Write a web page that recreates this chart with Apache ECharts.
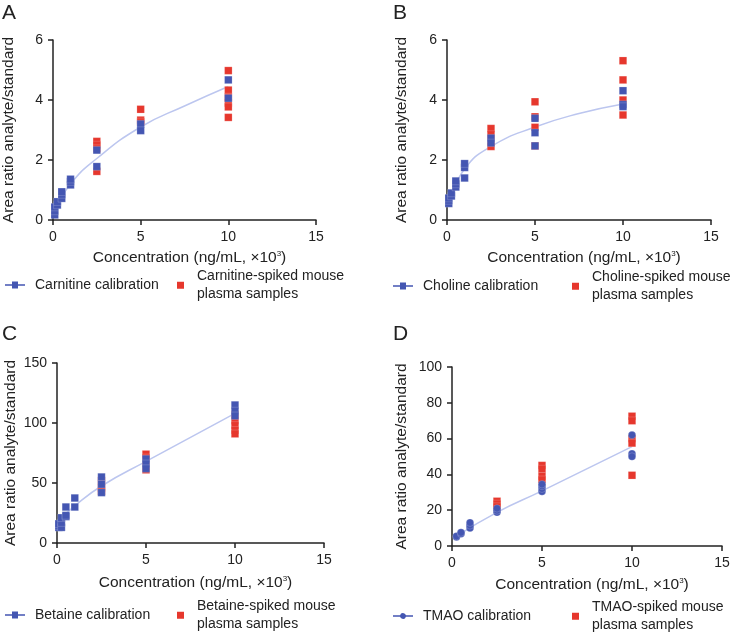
<!DOCTYPE html>
<html>
<head>
<meta charset="utf-8">
<script src="https://cdn.jsdelivr.net/npm/echarts@6/dist/echarts.min.js"></script>
<style>
html,body{margin:0;padding:0;background:#fff;}
#chart{width:733px;height:643px;}
</style>
</head>
<body>
<div id="chart"></div>
<script>
// ---------- data (concentration ×10^3 ng/mL, area ratio) ----------
const xTicks = [0, 15, 5];          // min, max, interval of every x axis
const yAxisA = [0, 6, 2];
const yAxisB = [0, 6, 2];
const yAxisC = [0, 150, 50];
const yAxisD = [0, 100, 20];

const carnitineCal = [[0.1,0.17],[0.1,0.3],[0.1,0.43],[0.25,0.5],[0.25,0.61],[0.5,0.72],[0.5,0.85],[0.5,0.94],[1,1.17],[1,1.28],[1,1.36],[2.5,2.33],[2.5,1.78],[5,3.2],[5,2.98],[10,4.67],[10,4.06]];
const carnitineSpiked = [[2.5,2.62],[2.5,2.5],[2.5,2.38],[2.5,1.62],[5,3.69],[5,3.33],[5,3.27],[10,4.98],[10,4.33],[10,4.1],[10,3.9],[10,3.77],[10,3.42]];
const carnitineFit = [[0.1,0.3],[1,1.2],[2.5,2.05],[5,3.1],[7.5,3.8],[10,4.45]];

const cholineCal = [[0.1,0.55],[0.1,0.65],[0.1,0.73],[0.25,0.8],[0.25,0.9],[0.5,1.1],[0.5,1.2],[0.5,1.3],[1,1.4],[1,1.75],[1,1.88],[2.5,2.73],[2.5,2.57],[5,3.39],[5,2.91],[5,2.47],[10,4.31],[10,3.85],[10,3.78]];
const cholineSpiked = [[2.5,3.05],[2.5,2.85],[2.5,2.62],[2.5,2.45],[5,3.94],[5,3.44],[5,3.09],[5,2.47],[10,5.31],[10,4.67],[10,4.0],[10,3.5]];
const cholineFit = [[0.1,0.6],[1,1.7],[2.5,2.45],[5,3.1],[7.5,3.55],[10,3.87]];

const betaineCal = [[0.1,13],[0.1,14.5],[0.1,16],[0.25,13],[0.25,17],[0.25,21],[0.5,22],[0.5,23],[0.5,30],[1,30],[1,37.5],[2.5,55],[2.5,49],[2.5,42],[5,70],[5,66],[5,62],[10,115],[10,110],[10,106]];
const betaineSpiked = [[2.5,52],[2.5,46],[2.5,43],[5,74],[5,71],[5,66],[5,61],[10,107],[10,102],[10,98],[10,94],[10,91]];
const betaineFit = [[0.1,19],[1,31],[2.5,47.5],[5,68],[10,108]];

const tmaoCal = [[0.25,5],[0.25,5.5],[0.5,6.8],[0.5,7.5],[1,10],[1,11.5],[1,13],[2.5,18.8],[2.5,19.8],[2.5,21],[5,30.5],[5,32],[5,33.5],[5,34.5],[10,62],[10,51.5],[10,50]];
const tmaoSpiked = [[2.5,25],[2.5,23.5],[2.5,22],[5,45],[5,43],[5,39],[5,37],[10,72.5],[10,70],[10,60],[10,57.5],[10,39.5]];
const tmaoFit = [[0.25,5.5],[2.5,18.8],[5,30.8],[10,55.5]];

const panelLetters = ['A','B','C','D'];
const analytes = ['Carnitine','Choline','Betaine','TMAO'];
const xName = 'Concentration (ng/mL, ×10{sup|3})';
const yName = 'Area ratio analyte/standard';

// ---------- styling / layout ----------
const FONT = '"Liberation Sans", Arial, Helvetica, sans-serif';
const TXT = '#222';
const BLUE = '#4456b2';
const RED = '#e6372d';
const FIT = '#bcc6ef';

const grids = [
  {left:53, top:40, width:263, height:180},
  {left:447, top:40, width:264, height:180},
  {left:57, top:363, width:267, height:180},
  {left:452, top:367, width:270, height:179}
];
const yRanges = [yAxisA, yAxisB, yAxisC, yAxisD];
const yNameGaps = [36, 37, 38, 42];
const xNameGaps = [30, 30, 32, 31];
const letterPos = [[2,3],[393,3],[2,324],[393,324]];
const legendPos = [ // [calLeft, spikedLeft, centerY]
  [5, 177, 285],
  [393, 572, 286],
  [5, 177, 615],
  [393, 572, 616]
];
const calData = [carnitineCal, cholineCal, betaineCal, tmaoCal];
const spkData = [carnitineSpiked, cholineSpiked, betaineSpiked, tmaoSpiked];
const fitData = [carnitineFit, cholineFit, betaineFit, tmaoFit];

const iconSquareLine = 'path://M0,3.3 L7,3.3 L7,0.5 L13,0.5 L13,3.3 L20,3.3 L20,4.7 L13,4.7 L13,7.5 L7,7.5 L7,4.7 L0,4.7 Z';
const iconCircleLine = 'path://M0,3.3 L7.1,3.3 A3,3 0 0 1 12.9,3.3 L20,3.3 L20,4.7 L12.9,4.7 A3,3 0 0 1 7.1,4.7 L0,4.7 Z';

const option = {
  animation: false,
  backgroundColor: '#fff',
  textStyle: {fontFamily: FONT},
  title: [], grid: [], xAxis: [], yAxis: [], legend: [], series: []
};

for (let i = 0; i < 4; i++) {
  option.title.push({
    text: panelLetters[i], left: letterPos[i][0], top: letterPos[i][1], padding: 0,
    textStyle: {fontFamily: FONT, fontSize: 21, fontWeight: 'normal', color: TXT}
  });
  option.grid.push(Object.assign({containLabel: false, outerBoundsMode: 'none'}, grids[i]));
  option.xAxis.push({
    type: 'value', gridIndex: i, min: xTicks[0], max: xTicks[1], interval: xTicks[2],
    name: xName, nameLocation: 'middle', nameGap: xNameGaps[i],
    nameTextStyle: {fontFamily: FONT, fontSize: 15.5, color: TXT, padding: [0,0,0,10],
      rich: {sup: {fontFamily: FONT, fontSize: 8, color: TXT, verticalAlign: 'top', padding:[0,0,7,0]}}},
    axisLine: {show: true, onZero: false, lineStyle: {color: TXT, width: 1.5}},
    axisTick: {show: true, length: 5, lineStyle: {color: TXT, width: 1.5}},
    axisLabel: {fontFamily: FONT, fontSize: 14, color: TXT, margin: 10},
    splitLine: {show: false}
  });
  option.yAxis.push({
    type: 'value', gridIndex: i, min: yRanges[i][0], max: yRanges[i][1], interval: yRanges[i][2],
    name: yName, nameLocation: 'middle', nameGap: yNameGaps[i],
    nameTextStyle: {fontFamily: FONT, fontSize: 15.5, color: TXT},
    axisLine: {show: true, lineStyle: {color: TXT, width: 1.5}},
    axisTick: {show: true, length: 5, lineStyle: {color: TXT, width: 1.5}},
    axisLabel: {fontFamily: FONT, fontSize: 14, color: TXT, margin: 10},
    splitLine: {show: false}
  });
  const calName = analytes[i] + ' calibration';
  const spkName = analytes[i] + '-spiked mouse plasma samples';
  const isCircle = i === 3;
  option.series.push({
    type: 'line', name: analytes[i] + ' fit', xAxisIndex: i, yAxisIndex: i,
    data: fitData[i], smooth: true, symbol: 'none', silent: true, z: 1,
    lineStyle: {color: FIT, width: 1.5}
  });
  option.series.push({
    type: 'scatter', name: spkName, xAxisIndex: i, yAxisIndex: i,
    data: spkData[i], symbol: 'rect', symbolSize: 7.5, z: 2,
    itemStyle: {color: RED, borderColor: 'rgba(255,255,255,0.3)', borderWidth: 0.6, opacity: 1}
  });
  option.series.push({
    type: 'scatter', name: calName, xAxisIndex: i, yAxisIndex: i,
    data: calData[i], symbol: isCircle ? 'circle' : 'rect', symbolSize: 7.5, z: 3,
    itemStyle: {color: BLUE, borderColor: 'rgba(255,255,255,0.3)', borderWidth: 0.6, opacity: 1}
  });
  const lp = legendPos[i];
  option.legend.push({
    data: [{name: calName, icon: isCircle ? iconCircleLine : iconSquareLine}],
    left: lp[0], top: lp[2] - 8.5, padding: 0, itemWidth: 20, itemHeight: 8,
    selectedMode: false,
    itemStyle: {borderWidth: 0, color: BLUE},
    textStyle: {fontFamily: FONT, fontSize: 14, color: TXT, lineHeight: 17, padding: [0,0,0,5]}
  });
  option.legend.push({
    data: [{name: spkName, icon: 'rect'}],
    left: lp[1], top: lp[2] - 26, padding: 0, itemWidth: 7, itemHeight: 7,
    selectedMode: false,
    itemStyle: {borderWidth: 0, color: RED},
    formatter: function (n) { return n.replace('mouse ', 'mouse\n'); },
    textStyle: {fontFamily: FONT, fontSize: 14, color: TXT, lineHeight: 17.5, padding: [17.5,0,0,8]}
  });
}

const chart = echarts.init(document.getElementById('chart'), null, {renderer: 'canvas'});
chart.setOption(option);
</script>
</body>
</html>
